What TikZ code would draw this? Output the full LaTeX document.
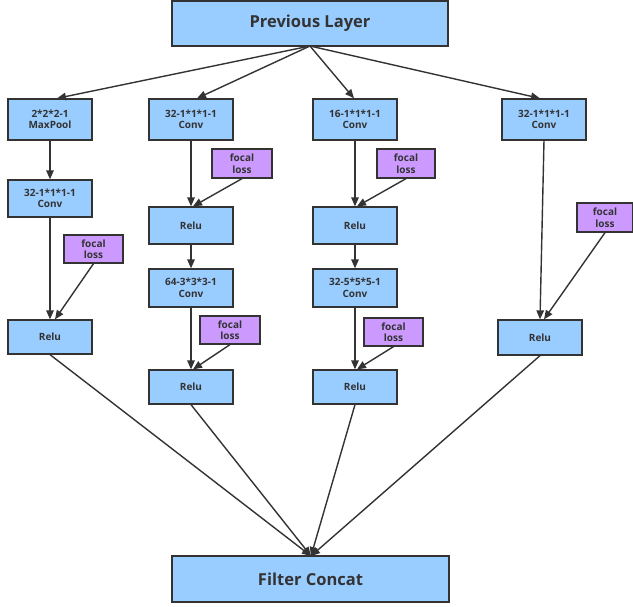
\documentclass[tikz,border=0pt]{standalone}
\usepackage{fontspec}
\setmainfont{Open Sans}
\usetikzlibrary{arrows.meta}
\definecolor{boxblue}{HTML}{99CCFF}
\definecolor{boxpurple}{HTML}{CC99FF}
\definecolor{ink}{HTML}{333333}
\begin{document}
\begin{tikzpicture}[x=1pt,y=-1pt,
  blk/.style={draw=ink, line width=1.3pt, fill=boxblue, rectangle, inner sep=0pt, align=center,
    text=ink, font=\fontsize{10}{11.5}\selectfont\bfseries, minimum width=84pt},
  fl/.style={draw=ink, line width=1.3pt, fill=boxpurple, rectangle, inner sep=0pt, align=center,
    text=ink, font=\fontsize{10}{11.5}\selectfont\bfseries, minimum height=28pt},
  big/.style={blk, font=\fontsize{16.5}{18}\selectfont\bfseries},
  arr/.style={draw=ink, line width=1.4pt, -{Triangle[length=9pt,width=7.5pt]}}]
\useasboundingbox (0,0) rectangle (633,607);
% nodes
\node[big, minimum width=276pt, minimum height=45pt] (prev) at (310,23.5) {Previous Layer};
\node[big, minimum width=277pt, minimum height=46pt] (fc) at (310.5,579) {Filter Concat};

\node[blk, minimum height=41pt] (mp) at (50,119.5) {2*2*2-1\\MaxPool};
\node[blk, minimum height=41pt] (c2a) at (191,119.5) {32-1*1*1-1\\Conv};
\node[blk, minimum height=41pt] (c3a) at (355,119.5) {16-1*1*1-1\\Conv};
\node[blk, minimum height=41pt] (c4a) at (544,119.5) {32-1*1*1-1\\Conv};

\node[blk, minimum height=37pt] (c1b) at (50,198.5) {32-1*1*1-1\\Conv};
\node[fl, minimum width=59pt] (f1) at (93.5,249) {focal\\loss};
\node[blk, minimum height=34pt] (r1) at (50,337) {Relu};

\node[fl, minimum width=60pt, minimum height=29pt] (f2a) at (242,163.5) {focal\\loss};
\node[blk, minimum height=37pt] (r2a) at (191,225.5) {Relu};
\node[blk, minimum height=38pt] (c2b) at (191,288) {64-3*3*3-1\\Conv};
\node[fl, minimum width=60pt] (f2b) at (230,330) {focal\\loss};
\node[blk, minimum height=34pt] (r2b) at (191,387) {Relu};

\node[fl, minimum width=58pt, minimum height=29pt] (f3a) at (406,163.5) {focal\\loss};
\node[blk, minimum height=37pt] (r3a) at (355,225.5) {Relu};
\node[blk, minimum height=38pt] (c3b) at (355,288) {32-5*5*5-1\\Conv};
\node[fl, minimum width=59pt] (f3b) at (393.5,332) {focal\\loss};
\node[blk, minimum height=34pt] (r3b) at (355,387) {Relu};

\node[fl, minimum width=56pt, minimum height=29pt] (f4) at (605,217.5) {focal\\loss};
\node[blk, minimum height=35pt] (r4) at (540,337.5) {Relu};

% connectors from previous layer
\coordinate (ps) at (310,46);
\draw[arr] (ps) -- ([xshift=7pt]mp.north);
\draw[arr] (ps) -- ([xshift=6pt]c2a.north);
\draw[arr] (ps) -- ([xshift=-1pt]c3a.north);
\draw[arr] (ps) -- ([xshift=-4pt]c4a.north);

% column 1
\draw[arr] (mp.south) -- (c1b.north);
\draw[arr] (c1b.south) -- (r1.north);
\draw[arr] (f1.south) -- ([xshift=5pt]r1.north);

% column 2
\draw[arr] (c2a.south) -- (r2a.north);
\draw[arr] (f2a.south) -- ([xshift=2pt]r2a.north);
\draw[arr] (r2a.south) -- (c2b.north);
\draw[arr] (c2b.south) -- (r2b.north);
\draw[arr] (f2b.south) -- ([xshift=2pt]r2b.north);

% column 3
\draw[arr] (c3a.south) -- (r3a.north);
\draw[arr] (f3a.south) -- ([xshift=2pt]r3a.north);
\draw[arr] (r3a.south) -- (c3b.north);
\draw[arr] (c3b.south) -- (r3b.north);
\draw[arr] (f3b.south) -- ([xshift=2pt]r3b.north);

% column 4
\draw[arr] (c4a.south) -- (r4.north);
\draw[arr] (f4.south) -- ([xshift=4pt]r4.north);

% to filter concat
\coordinate (fcn) at (311,556);
\draw[arr] (r1.south) -- (fcn);
\draw[arr] (r2b.south) -- (fcn);
\draw[arr] (r3b.south) -- (fcn);
\draw[arr] (r4.south) -- (fcn);
\end{tikzpicture}
\end{document}
